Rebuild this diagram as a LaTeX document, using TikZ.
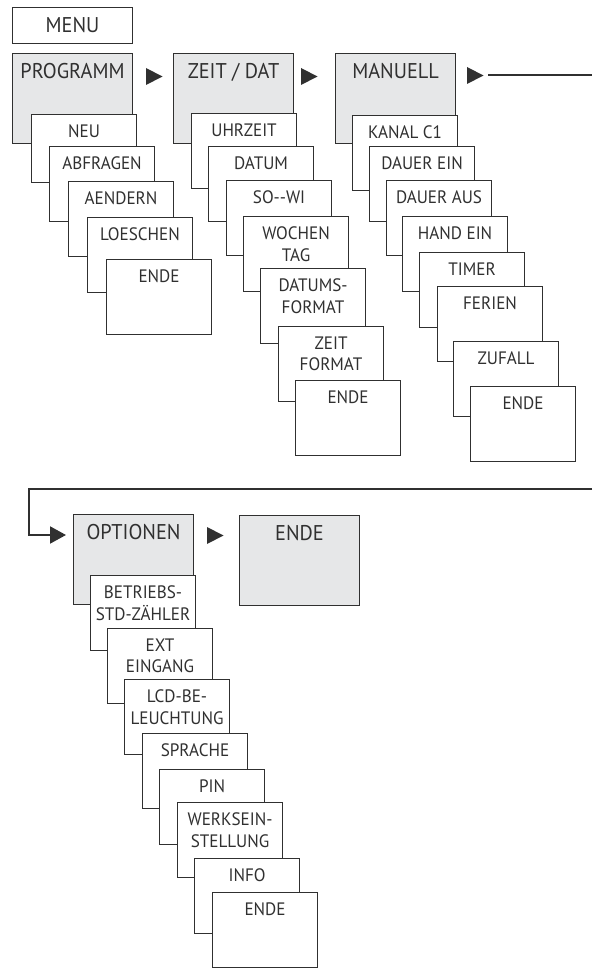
\documentclass[tikz,border=0pt]{standalone}
\usepackage{fontspec}
\setmainfont[FakeStretch=0.95]{PT Sans}
\usetikzlibrary{arrows.meta}
\definecolor{boxgray}{HTML}{E6E7E8}
\definecolor{ink}{HTML}{303030}
\tikzstyle{frame} = [draw=ink, line width=.8pt, anchor=north west, inner sep=0pt]
\tikzstyle{link} = [draw=ink, line width=1.5pt]
\tikzset{
  head/.style={frame, fill=boxgray, minimum width=90pt, minimum height=67.5pt,
    label={[anchor=north, inner sep=0pt, yshift=-7.5pt, align=center, text=ink,
      font=\fontsize{16}{19}\selectfont]north:#1}},
  item/.style={frame, fill=white, minimum width=78.75pt, minimum height=56.25pt,
    label={[anchor=north, inner sep=0pt, yshift=-8pt, align=center, text=ink,
      font=\fontsize{13.5}{16}\selectfont]north:#1}}
}
\newcommand{\pointer}[1]{\fill[ink] (#1) -- ++(0,17) -- ++(16.5,-8.5) -- cycle;}

\begin{document}
\begin{tikzpicture}[x=.75pt, y=-.75pt]
  \useasboundingbox (0,0) rectangle (592,969);
  % top row
  \node[head=MENU, fill=white, minimum height=27pt] (menu) at (12,7) {};
  \node[head=PROGRAMM] (prog) at (12,53) {};
  \node[head=ZEIT / DAT] (zeit) at (173,53) {};
  \node[head=MANUELL] (man) at (335,53) {};
  \pointer{146,68}
  \pointer{301,68}
  \pointer{467,67}
  % PROGRAMM
  \node[item=NEU, minimum height=51pt] (neu) at (31,114) {};
  \node[item=ABFRAGEN] (abfr) at (49,146) {};
  \node[item=AENDERN] (aend) at (68,181) {};
  \node[item=LOESCHEN] (loes) at (87,217) {};
  \node[item=ENDE] (endeA) at (106,259) {};
  % ZEIT / DAT
  \node[item=UHRZEIT] (uhr) at (191,113) {};
  \node[item=DATUM] (dat) at (208,146) {};
  \node[item=SO-{}-WI] (sowi) at (226,180) {};
  \node[item=WOCHEN\\TAG] (wtag) at (243,216) {};
  \node[item=DATUMS-\\FORMAT] (dfmt) at (260,268) {};
  \node[item=ZEIT\\FORMAT] (zfmt) at (278,326) {};
  \node[item=ENDE] (endeB) at (295,380) {};
  % MANUELL
  \node[item=KANAL C1] (kanal) at (352,115) {};
  \node[item=DAUER EIN] (dein) at (369,146) {};
  \node[item=DAUER AUS] (daus) at (386,180) {};
  \node[item=HAND EIN] (hand) at (402,216) {};
  \node[item=TIMER] (timer) at (419,252) {};
  \node[item=FERIEN] (ferien) at (437,286) {};
  \node[item=ZUFALL] (zufall) at (453,341) {};
  \node[item=ENDE] (endeC) at (470,386) {};
  % loop back to second row
  \coordinate (manout) at (488,75);
  \coordinate (exitR) at (592,75);
  \coordinate (backR) at (592,489);
  \coordinate (turn) at (29,489);
  \coordinate (optin) at (66,535);
  \draw[link] (manout) -- (exitR);
  \draw[link, line join=miter, -{Triangle[length=12pt, width=12.75pt]}] (backR) -- (turn) |- (optin);
  % second row
  \node[head=OPTIONEN] (opt) at (73,514) {};
  \node[head=ENDE] (endeD) at (239,515) {};
  \pointer{207,527}
  \node[item=BETRIEBS-\\STD-ZÄHLER] (betr) at (90,575) {};
  \node[item=EXT\\EINGANG] (ext) at (107,628) {};
  \node[item=LCD-BE-\\LEUCHTUNG] (lcd) at (124,679) {};
  \node[item=SPRACHE] (spr) at (142,733) {};
  \node[item=PIN] (pin) at (159,769) {};
  \node[item=WERKSEIN-\\STELLUNG] (werk) at (177,802) {};
  \node[item=INFO] (info) at (194,858) {};
  \node[item=ENDE] (endeE) at (212,892) {};
\end{tikzpicture}
\end{document}
